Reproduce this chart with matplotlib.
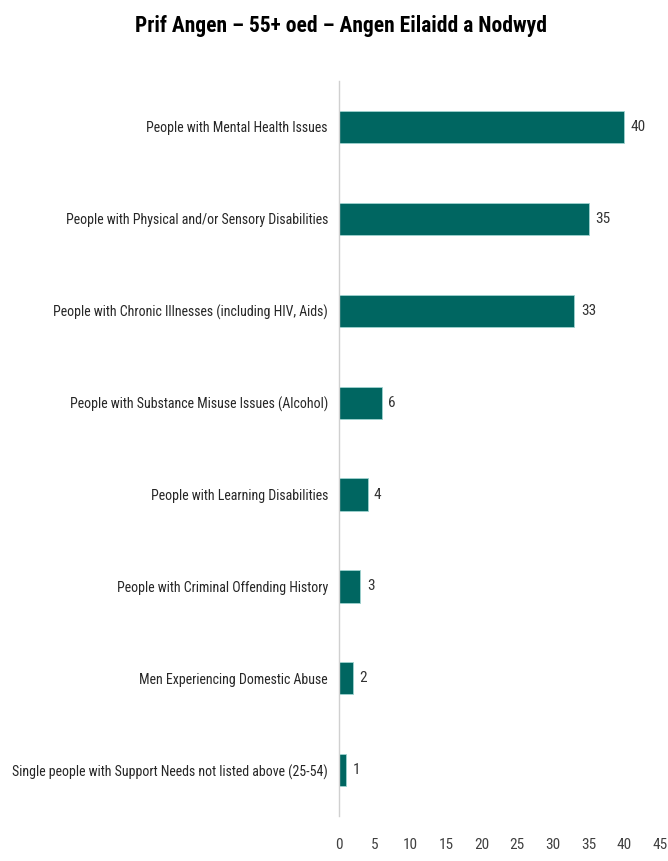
import matplotlib.pyplot as plt
import numpy as np

categories = [
    "People with Mental Health Issues",
    "People with Physical and/or Sensory Disabilities",
    "People with Chronic Illnesses (including HIV, Aids)",
    "People with Substance Misuse Issues (Alcohol)",
    "People with Learning Disabilities",
    "People with Criminal Offending History",
    "Men Experiencing Domestic Abuse",
    "Single people with Support Needs not listed above (25-54)",
]
values = [40, 35, 33, 6, 4, 3, 2, 1]
x_ticks = [0, 5, 10, 15, 20, 25, 30, 35, 40, 45]

plt.rcParams["font.family"] = ["Roboto Condensed", "DejaVu Sans"]

fig = plt.figure(figsize=(6.68, 8.61), dpi=100)
ax = fig.add_axes([0.5075, 0.052, 0.4805, 0.854])

y = np.arange(len(categories))
ax.barh(y, values, height=0.35, color="#006661", edgecolor="#9fd3d0", linewidth=0.6)
for yi, v in zip(y, values):
    ax.text(v + 0.9, yi, str(v), va="center", ha="left", fontsize=11, color="#333333")

ax.set_ylim(len(categories) - 0.5, -0.5)
ax.set_xlim(0, 45)
ax.set_yticks(y)
ax.set_yticklabels(categories, fontsize=10, color="#262626")
ax.set_xticks(x_ticks)
ax.set_xticklabels([str(t) for t in x_ticks], fontsize=11, color="#404040")
ax.tick_params(axis="both", length=0)
ax.tick_params(axis="x", pad=16)
ax.tick_params(axis="y", pad=8)

for s in ["top", "right", "bottom"]:
    ax.spines[s].set_visible(False)
ax.spines["left"].set_color("#d0d0d0")
ax.spines["left"].set_linewidth(1)

fig.text(0.51, 0.97, "Prif Angen \u2013 55+ oed \u2013 Angen Eilaidd a Nodwyd",
         ha="center", va="center", fontsize=15.5, fontweight="bold")

fig.savefig("out.png", dpi=100)
